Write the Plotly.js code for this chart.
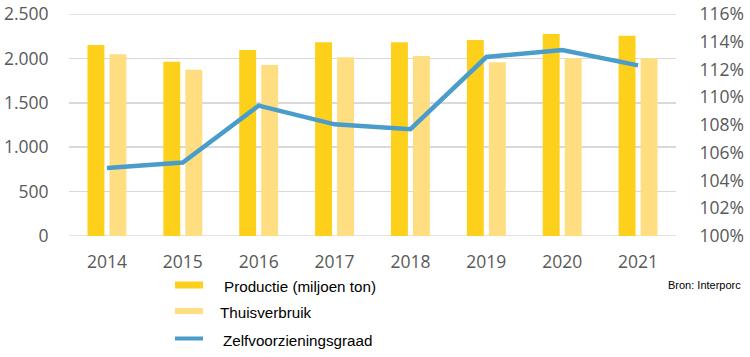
<!DOCTYPE html>
<html>
<head>
<meta charset="utf-8">
<script src="https://cdn.plot.ly/plotly-3.0.1.min.js"></script>
<style>html,body{margin:0;padding:0;background:#fff;}#chart{width:750px;height:357px;}</style>
</head>
<body>
<div id="chart"></div>
<script>
var years = ["2014", "2015", "2016", "2017", "2018", "2019", "2020", "2021"];
var productie = [2150, 1963, 2095, 2181, 2181, 2207, 2275, 2256];
var thuisverbruik = [2046, 1873, 1926, 2012, 2027, 1956, 2001, 2001];
var zelfvoorziening = [104.9, 105.3, 109.4, 108.05, 107.7, 112.9, 113.4, 112.3];
var leftTicks = [0, 500, 1000, 1500, 2000, 2500];
var leftTickText = ["0", "500", "1.000", "1.500", "2.000", "2.500"];
var rightTicks = [100, 102, 104, 106, 108, 110, 112, 114, 116];
var rightTickText = ["100%", "102%", "104%", "106%", "108%", "110%", "112%", "114%", "116%"];
var legendNames = ["Productie (miljoen ton)", "Thuisverbruik", "Zelfvoorzieningsgraad"];

var cProd = "#FDD11B", cCons = "#FFDE82", cLine = "#4A9DCB";
var tickFont = {family: "Open Sans, sans-serif", size: 17.5, color: "#595959"};

var traces = [
  {type: "bar", x: years, y: productie, name: legendNames[0], marker: {color: cProd}, hoverinfo: "skip"},
  {type: "bar", x: years, y: thuisverbruik, name: legendNames[1], marker: {color: cCons}, hoverinfo: "skip"},
  {type: "scatter", mode: "lines", x: years, y: zelfvoorziening, name: legendNames[2], yaxis: "y2",
   line: {color: cLine, width: 4.5}, hoverinfo: "skip"}
];

var shapes = [], annotations = [];
// edge gridlines (0 and 2.500)
[0, 2500].forEach(function (v) {
  shapes.push({type: "line", xref: "paper", yref: "y", x0: 0, x1: 1, y0: v, y1: v,
    line: {color: "#D9D9D9", width: 1.5}, layer: "below"});
});
var legColors = [cProd, cCons, cLine];
var legY = [285, 311, 338.5];
var legH = [7, 6, 4];
var legTextX = [222, 218, 221];
for (var i = 0; i < 3; i++) {
  shapes.push({type: "rect", xref: "paper", yref: "paper",
    x0: (175 - 69) / 607, x1: (203 - 69) / 607,
    y0: (236 - (legY[i] + legH[i] / 2)) / 222, y1: (236 - (legY[i] - legH[i] / 2)) / 222,
    fillcolor: legColors[i], line: {width: 0}});
  annotations.push({xref: "paper", yref: "paper", x: (legTextX[i] - 69) / 607, y: (236 - legY[i] - 1.5) / 222,
    xanchor: "left", yanchor: "middle", showarrow: false, text: legendNames[i],
    font: {family: "Liberation Sans, Arial, sans-serif", size: 15.2, color: "#000"}});
}
annotations.push({xref: "paper", yref: "paper", x: (743 - 69) / 607, y: (236 - 285) / 222,
  xanchor: "right", yanchor: "middle", showarrow: false, text: "Bron: Interporc",
  font: {family: "Liberation Sans, Arial, sans-serif", size: 11, color: "#000"}});

var layout = {
  width: 750, height: 357,
  margin: {l: 69, r: 74, t: 14, b: 121, pad: 0},
  paper_bgcolor: "#fff", plot_bgcolor: "#fff",
  showlegend: false,
  barmode: "group", bargap: 0.42, bargroupgap: 0.23,
  xaxis: {type: "category", tickfont: tickFont, showgrid: false, zeroline: false, showline: false,
    ticks: "outside", ticklen: 10, tickcolor: "rgba(0,0,0,0)", automargin: false},
  yaxis: {range: [0, 2500], tickvals: leftTicks, ticktext: leftTickText, tickfont: tickFont,
    showgrid: true, gridcolor: "#D9D9D9", gridwidth: 1.5,
    zeroline: false, showline: false,
    ticks: "outside", ticklen: 16, tickcolor: "rgba(0,0,0,0)", automargin: false},
  yaxis2: {range: [100, 116], overlaying: "y", side: "right", tickvals: rightTicks, ticktext: rightTickText,
    tickfont: tickFont, showgrid: false, zeroline: false, showline: false,
    ticks: "outside", ticklen: 19, tickcolor: "rgba(0,0,0,0)", automargin: false},
  shapes: shapes,
  annotations: annotations
};

Plotly.newPlot("chart", traces, layout, {staticPlot: true, displayModeBar: false});
</script>
</body>
</html>
